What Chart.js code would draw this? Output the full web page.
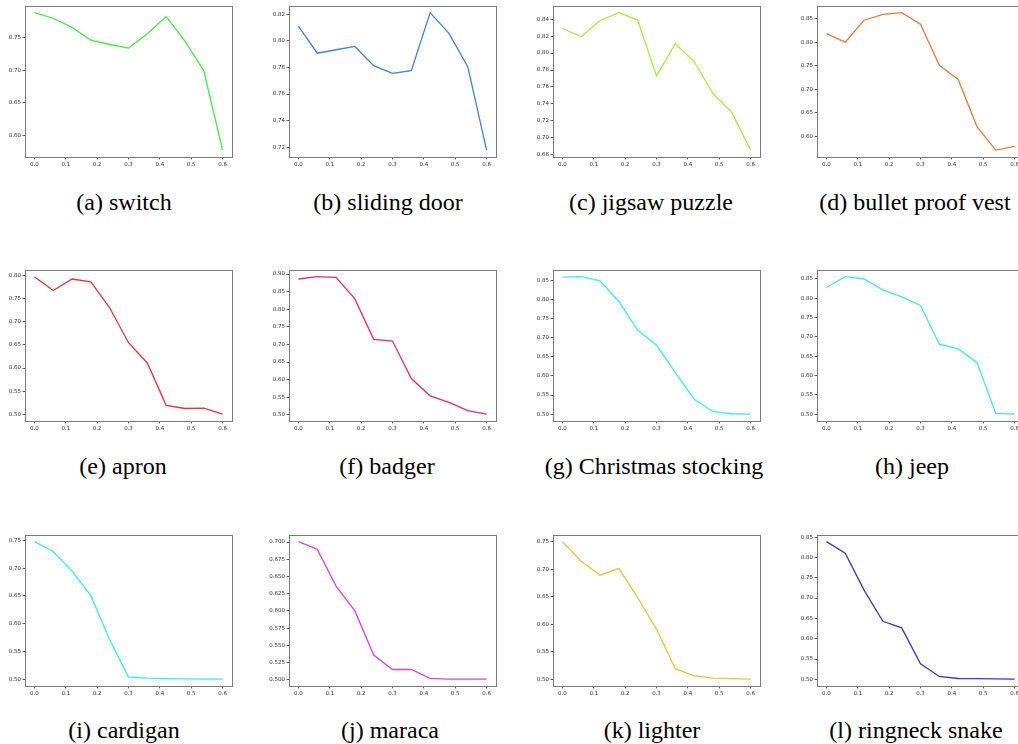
<!DOCTYPE html>
<html>
<head>
<meta charset="utf-8">
<script src="https://cdn.jsdelivr.net/npm/chart.js@4.4.1/dist/chart.umd.min.js"></script>
<style>
  html, body { margin: 0; padding: 0; background: #ffffff; overflow: hidden; }
  body { width: 1018px; height: 744px; position: relative; }
  .panel { position: absolute; }
  .caption {
    position: absolute; width: 300px; margin-left: -150px;
    text-align: center; font-family: "Liberation Serif", "Times New Roman", serif;
    font-size: 24px; line-height: 28px; color: #000; white-space: nowrap;
  }
</style>
</head>
<body>
<script>
// Pruning ratio on the x axis, shared by every panel
const xValues = [0, 0.06, 0.12, 0.18, 0.24, 0.30, 0.36, 0.42, 0.48, 0.54, 0.60];
const xTicks = [0, 0.1, 0.2, 0.3, 0.4, 0.5, 0.6];

// Accuracy per class
const switchAcc     = [0.7875, 0.779, 0.765, 0.7455, 0.739, 0.7335, 0.7555, 0.7815, 0.744, 0.699, 0.578];
const slidingDoor   = [0.811, 0.7907, 0.7933, 0.7958, 0.7814, 0.7755, 0.7775, 0.8212, 0.8056, 0.7806, 0.7178];
const jigsawPuzzle  = [0.829, 0.8195, 0.8385, 0.8477, 0.839, 0.773, 0.811, 0.790, 0.752, 0.730, 0.6854];
const bulletVest    = [0.818, 0.800, 0.8465, 0.859, 0.8625, 0.838, 0.7507, 0.721, 0.621, 0.571, 0.579];
const apron         = [0.797, 0.767, 0.792, 0.786, 0.730, 0.6546, 0.611, 0.5196, 0.5128, 0.5135, 0.5007];
const badger        = [0.886, 0.8926, 0.8907, 0.8295, 0.7145, 0.7098, 0.6032, 0.554, 0.5355, 0.512, 0.502];
const xmasStocking  = [0.859, 0.860, 0.849, 0.795, 0.7195, 0.681, 0.6085, 0.539, 0.507, 0.501, 0.500];
const jeep          = [0.828, 0.856, 0.850, 0.822, 0.8035, 0.7815, 0.681, 0.669, 0.634, 0.502, 0.500];
const cardigan      = [0.7476, 0.730, 0.6946, 0.6504, 0.571, 0.504, 0.502, 0.501, 0.5005, 0.5003, 0.5002];
const maraca        = [0.7005, 0.6895, 0.636, 0.600, 0.536, 0.515, 0.515, 0.502, 0.501, 0.501, 0.501];
const lighter       = [0.750, 0.7144, 0.689, 0.7014, 0.648, 0.591, 0.519, 0.506, 0.502, 0.501, 0.500];
const ringneckSnake = [0.8387, 0.8105, 0.7194, 0.6427, 0.6266, 0.538, 0.507, 0.502, 0.5015, 0.501, 0.5005];

// Y tick labels per panel
const yTicksSwitch  = [0.60, 0.65, 0.70, 0.75];
const yTicksDoor    = [0.72, 0.74, 0.76, 0.78, 0.80, 0.82];
const yTicksJigsaw  = [0.68, 0.70, 0.72, 0.74, 0.76, 0.78, 0.80, 0.82, 0.84];
const yTicksVest    = [0.60, 0.65, 0.70, 0.75, 0.80, 0.85];
const yTicksApron   = [0.50, 0.55, 0.60, 0.65, 0.70, 0.75, 0.80];
const yTicksBadger  = [0.50, 0.55, 0.60, 0.65, 0.70, 0.75, 0.80, 0.85, 0.90];
const yTicksHigh    = [0.50, 0.55, 0.60, 0.65, 0.70, 0.75, 0.80, 0.85];
const yTicksMid     = [0.50, 0.55, 0.60, 0.65, 0.70, 0.75];
const yTicksMaraca  = [0.500, 0.525, 0.550, 0.575, 0.600, 0.625, 0.650, 0.675, 0.700];

const captions = [
  '(a) switch', '(b) sliding door', '(c) jigsaw puzzle', '(d) bullet proof vest',
  '(e) apron', '(f) badger', '(g) Christmas stocking', '(h) jeep',
  '(i) cardigan', '(j) maraca', '(k) lighter', '(l) ringneck snake'
];
const series = [switchAcc, slidingDoor, jigsawPuzzle, bulletVest,
                apron, badger, xmasStocking, jeep,
                cardigan, maraca, lighter, ringneckSnake];
const yTickSets = [yTicksSwitch, yTicksDoor, yTicksJigsaw, yTicksVest,
                   yTicksApron, yTicksBadger, yTicksHigh, yTicksHigh,
                   yTicksMid, yTicksMaraca, yTicksMid, yTicksHigh];
const yDecimals = [2, 2, 2, 2, 2, 2, 2, 2, 2, 3, 2, 2];

const lineColors = ['#3cef3c', '#3a80ee', '#a6ef38', '#f27a38',
                    '#e83434', '#ec2c64', '#38f0ee', '#3cf0d2',
                    '#30f2f4', '#e03ee6', '#f2c232', '#3c30e6'];

// Grid geometry (plot frame boxes)
const colLeft = [25, 289, 553, 817];
const rowTop = [4, 268, 533];
const frameW = 207, frameH = 153;
const axisW = 26, axisH = 12, pad = 3;
const captionCenters = [124, 388, 651, 915,
                        123, 387, 654, 912,
                        124, 390, 652, 916];
const captionMid = [202, 466, 730];

// Closed box around the plot area, like matplotlib spines
const frameBox = {
  id: 'frameBox',
  afterDraw(chart) {
    const a = chart.chartArea, c = chart.ctx;
    c.save();
    c.strokeStyle = '#7b7b7b';
    c.lineWidth = 1;
    c.strokeRect(Math.round(a.left) + 0.5, Math.round(a.top) + 0.5,
                 Math.round(a.right - a.left), Math.round(a.bottom - a.top));
    c.restore();
  }
};

const tickFont = { family: 'DejaVu Sans', size: 5.5 };

series.forEach((vals, i) => {
  const row = Math.floor(i / 4), col = i % 4;
  const holder = document.createElement('div');
  holder.className = 'panel';
  const w = axisW + frameW + pad, h = pad + frameH + axisH;
  holder.style.left = (colLeft[col] - axisW) + 'px';
  holder.style.top = (rowTop[row] - pad) + 'px';
  holder.style.width = w + 'px';
  holder.style.height = h + 'px';
  const cv = document.createElement('canvas');
  cv.width = w; cv.height = h;
  cv.style.width = w + 'px'; cv.style.height = h + 'px';
  holder.appendChild(cv);
  document.body.appendChild(holder);

  const lo = Math.min(...vals), hi = Math.max(...vals);
  const m = (hi - lo) * 0.05;
  const xm = (xValues[xValues.length - 1] - xValues[0]) * 0.05;
  const yt = yTickSets[i], dec = yDecimals[i];

  new Chart(cv, {
    type: 'line',
    data: {
      datasets: [{
        data: xValues.map((x, k) => ({ x: x, y: vals[k] })),
        borderColor: lineColors[i],
        borderWidth: 1.3,
        pointRadius: 0,
        tension: 0,
        fill: false
      }]
    },
    options: {
      responsive: false,
      animation: false,
      devicePixelRatio: 1,
      layout: { padding: { top: pad, right: pad, left: 0, bottom: 0 } },
      plugins: { legend: { display: false }, tooltip: { enabled: false } },
      scales: {
        x: {
          type: 'linear',
          min: xValues[0] - xm,
          max: xValues[xValues.length - 1] + xm,
          afterBuildTicks: s => { s.ticks = xTicks.map(v => ({ value: v })); },
          afterFit: s => { s.height = axisH; },
          border: { display: false },
          grid: { display: true, drawOnChartArea: false, drawTicks: true, tickLength: 2.5, color: '#666' },
          ticks: { font: tickFont, color: '#333', padding: 1.5, maxRotation: 0, autoSkip: false,
                   callback: v => Number(v).toFixed(1) }
        },
        y: {
          type: 'linear',
          min: lo - m,
          max: hi + m,
          afterBuildTicks: s => { s.ticks = yt.map(v => ({ value: v })); },
          afterFit: s => { s.width = axisW; },
          border: { display: false },
          grid: { display: true, drawOnChartArea: false, drawTicks: true, tickLength: 2.5, color: '#666' },
          ticks: { font: tickFont, color: '#333', padding: 1.5, autoSkip: false,
                   callback: v => Number(v).toFixed(dec) }
        }
      }
    },
    plugins: [frameBox]
  });

  const cap = document.createElement('div');
  cap.className = 'caption';
  cap.textContent = captions[i];
  cap.style.left = captionCenters[i] + 'px';
  cap.style.top = (captionMid[row] - 14) + 'px';
  document.body.appendChild(cap);
});
</script>
</body>
</html>
